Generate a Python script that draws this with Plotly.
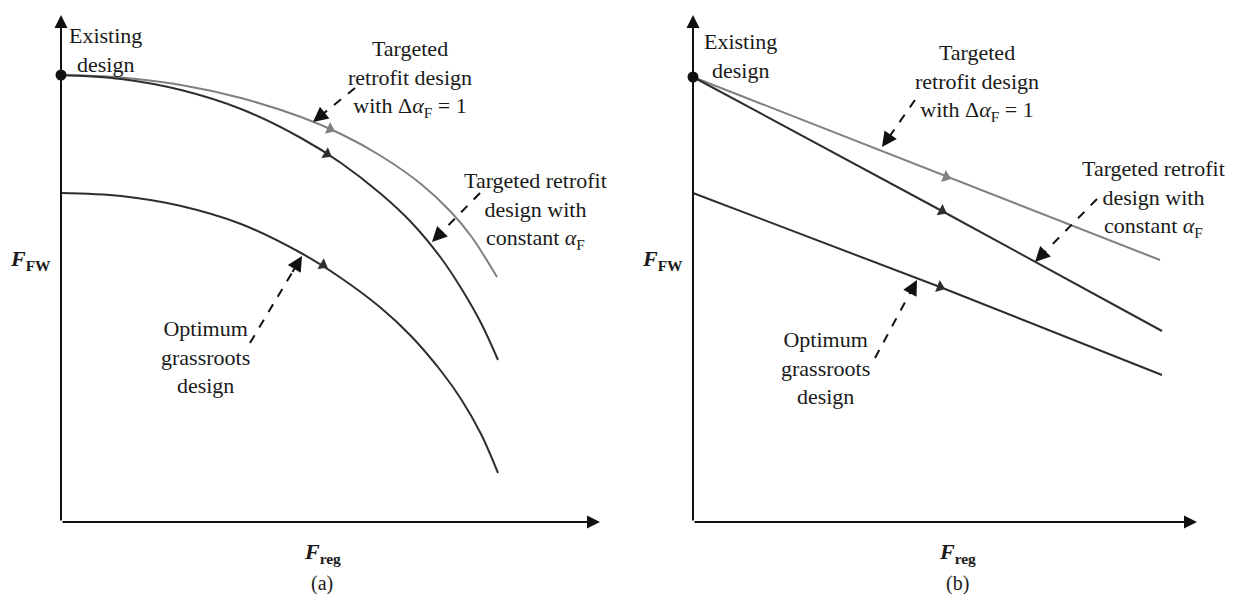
import plotly.graph_objects as go

# units: arbitrary (schematic), origin at each panel's axes corner
# ---- panel (a): curved fronts ----
a_delta_x = [0, 6, 12, 18, 24, 28, 32, 36, 39, 41, 43.6]
a_delta_y = [44.7, 44.45, 43.7, 42.4, 40.5, 38.8, 36.6, 33.8, 31.0, 28.6, 24.5]
a_const_x = [0, 6, 12, 18, 24, 28, 32, 35, 38, 40, 42, 43.7]
a_const_y = [44.7, 44.3, 43.2, 41.3, 38.4, 35.9, 32.8, 30.0, 26.4, 23.4, 19.9, 16.2]
a_grass_x = [0, 6, 12, 18, 24, 28, 32, 35, 38, 40, 42, 43.7]
a_grass_y = [32.9, 32.6, 31.6, 29.8, 26.9, 24.4, 21.4, 18.6, 15.1, 12.3, 8.8, 4.9]
a_existing = (0, 44.7)
a_dir_x = [26.9, 26.6, 26.2]
a_dir_y = [39.3, 36.8, 25.7]
a_dir_angle = [24, 31, 30]
a_extent = (53.9, 50.7)

# ---- panel (b): straight fronts ----
b_delta_x = [0, 25.2, 46.7]
b_delta_y = [44.5, 34.6, 26.2]
b_const_x = [0, 24.9, 46.9]
b_const_y = [44.5, 31.1, 19.1]
b_grass_x = [0, 24.7, 46.9]
b_grass_y = [32.9, 23.5, 14.7]
b_existing = (0, 44.5)
b_dir_x = [25.3, 24.9, 24.7]
b_dir_y = [34.5, 31.1, 23.5]
b_dir_angle = [21, 28, 21]
b_extent = (50.4, 50.7)

# pointer arrows: (start, tip)
a_pointers = [((29.4, 43.4), (25.2, 40.0)),
              ((41.9, 32.9), (37.1, 28.0)),
              ((18.9, 17.9), (24.1, 26.6))]
b_pointers = [((22.2, 42.2), (18.9, 37.5)),
              ((40.4, 32.3), (34.2, 26.0)),
              ((18.2, 16.4), (22.4, 24.2))]

lbl_existing = "Existing<br>design"
lbl_delta = "Targeted<br>retrofit design<br>with Δ<i>α</i><sub>F</sub> = 1"
lbl_const = "Targeted retrofit<br>design with<br>constant <i>α</i><sub>F</sub>"
lbl_grass = "Optimum<br>grassroots<br>design"
lbl_fw = "<b><i>F</i></b><b><sub>FW</sub></b>"
lbl_reg = "<b><i>F</i></b><b><sub>reg</sub></b>"

a_labels = [(lbl_existing, 4.4, 47.2), (lbl_delta, 34.9, 44.4),
            (lbl_const, 47.4, 31.2), (lbl_grass, 14.4, 16.5),
            (lbl_fw, -3.1, 26.2), (lbl_reg, 26.1, -3.1)]
b_labels = [(lbl_existing, 4.7, 46.6), (lbl_delta, 28.4, 44.0),
            (lbl_const, 46.0, 32.4), (lbl_grass, 13.2, 15.4),
            (lbl_fw, -3.1, 26.2), (lbl_reg, 26.4, -3.1)]
a_caption = ("(a)", 26.1, -6.1)
b_caption = ("(b)", 26.4, -6.1)

# page has an 8px body margin, so the figure is drawn slightly smaller and shifted
OFF = 8
W, H = 1237 - 2 * OFF, 602 - 2 * OFF
UNIT = 10  # px per data unit
DARK = "#2e2e2e"
GRAY = "#808080"
FONT = "Liberation Serif"

fig = go.Figure()


def add_panel(xa, ya, curves, existing, dir_x, dir_y, dir_angle, pointers, labels, caption, extent, shape):
    for (cx, cy, col) in curves:
        fig.add_trace(go.Scatter(x=cx, y=cy, mode="lines", xaxis=xa, yaxis=ya,
                                 line=dict(color=col, width=2, shape=shape, smoothing=1.0),
                                 hoverinfo="skip", showlegend=False))
    cols = [c[2] for c in curves]
    fig.add_trace(go.Scatter(x=dir_x, y=dir_y, mode="markers", xaxis=xa, yaxis=ya,
                             marker=dict(symbol="triangle-right", size=11, color=cols,
                                         angle=dir_angle, line=dict(width=0)),
                             hoverinfo="skip", showlegend=False))
    fig.add_trace(go.Scatter(x=[existing[0]], y=[existing[1]], mode="markers", xaxis=xa, yaxis=ya,
                             marker=dict(size=11, color="#111"), cliponaxis=False,
                             hoverinfo="skip", showlegend=False))
    for (s, t) in pointers:
        # dashed shaft stops short, the head is an annotation arrow
        dx, dy = t[0] - s[0], t[1] - s[1]
        fx, fy = s[0] + 0.8 * dx, s[1] + 0.8 * dy
        fig.add_trace(go.Scatter(x=[s[0], fx], y=[s[1], fy], mode="lines", xaxis=xa, yaxis=ya,
                                 line=dict(color="#111", width=2, dash="dash"),
                                 hoverinfo="skip", showlegend=False))
        fig.add_annotation(x=t[0], y=t[1], ax=fx, ay=fy, xref=xa, yref=ya,
                           axref=xa, ayref=ya, showarrow=True, arrowhead=2,
                           arrowsize=1.5, arrowwidth=2, arrowcolor="#111", text="")
    # axes with arrow heads
    fig.add_annotation(x=extent[0], y=0, ax=0, ay=0, xref=xa, yref=ya, axref=xa, ayref=ya,
                       showarrow=True, arrowhead=2, arrowsize=1.3, arrowwidth=2, arrowcolor="#111", text="")
    fig.add_annotation(x=0, y=extent[1], ax=0, ay=0, xref=xa, yref=ya, axref=xa, ayref=ya,
                       showarrow=True, arrowhead=2, arrowsize=1.3, arrowwidth=2, arrowcolor="#111", text="")
    for (txt, lx, ly) in labels:
        fig.add_annotation(x=lx, y=ly, xref=xa, yref=ya, text=txt, showarrow=False,
                           font=dict(family=FONT, size=22, color="#1a1a1a"), align="center")
    fig.add_annotation(x=caption[1], y=caption[2], xref=xa, yref=ya, text=caption[0], showarrow=False,
                       font=dict(family=FONT, size=20, color="#1a1a1a"))


add_panel("x", "y",
          [(a_delta_x, a_delta_y, GRAY), (a_const_x, a_const_y, DARK), (a_grass_x, a_grass_y, DARK)],
          a_existing, a_dir_x, a_dir_y, a_dir_angle, a_pointers, a_labels, a_caption, a_extent, "spline")
add_panel("x2", "y2",
          [(b_delta_x, b_delta_y, GRAY), (b_const_x, b_const_y, DARK), (b_grass_x, b_grass_y, DARK)],
          b_existing, b_dir_x, b_dir_y, b_dir_angle, b_pointers, b_labels, b_caption, b_extent, "linear")

# origins of the two panels, in page pixels
org_a = (61 - OFF, 522 - OFF)
org_b = (693 - OFF, 522 - OFF)
half = W / 2


def xr(org, lo, hi):
    return [(lo - org[0]) / UNIT, (hi - org[0]) / UNIT]


yr = [(org_a[1] - H) / UNIT, org_a[1] / UNIT]

hidden = dict(visible=False, showgrid=False, zeroline=False, fixedrange=True)
fig.update_layout(
    width=W, height=H,
    margin=dict(l=0, r=0, t=0, b=0),
    plot_bgcolor="white", paper_bgcolor="white",
    xaxis=dict(domain=[0, 0.5], range=xr(org_a, 0, half), anchor="y", **hidden),
    yaxis=dict(domain=[0, 1], range=yr, anchor="x", **hidden),
    xaxis2=dict(domain=[0.5, 1], range=xr(org_b, half, W), anchor="y2", **hidden),
    yaxis2=dict(domain=[0, 1], range=yr, anchor="x2", **hidden),
    showlegend=False,
)

fig.write_html("out.html")
